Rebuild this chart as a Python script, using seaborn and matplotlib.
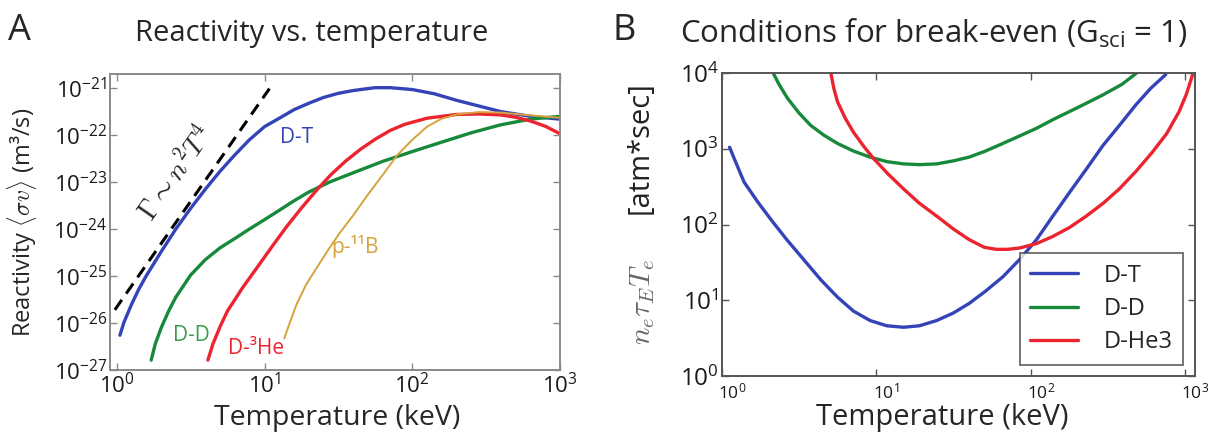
import numpy as np
import pandas as pd
import seaborn as sns
import matplotlib.pyplot as plt
import matplotlib.transforms as mtransforms
from matplotlib.ticker import LogLocator, FuncFormatter

# ---- panel A: reactivity, stored as log10(<sigma v> in m^3/s), vs temperature (keV)
dt_T = [1.05, 1.12, 1.26, 1.41, 1.58, 2.0, 2.51, 3.16, 3.98, 5.0, 6.3, 7.9, 10, 12.6, 15.8,
        20, 25, 31.6, 40, 56, 71, 100, 141, 200, 282, 398, 631, 1000]
dt_log = [-26.26, -25.98, -25.6, -25.28, -25.0, -24.48, -24.0, -23.56, -23.15, -22.77, -22.42,
          -22.1, -21.82, -21.64, -21.46, -21.32, -21.2, -21.11, -21.05, -20.99, -20.99, -21.03,
          -21.12, -21.26, -21.38, -21.5, -21.6, -21.66]

dd_T = [1.71, 1.82, 2.0, 2.24, 2.51, 3.16, 3.98, 5.0, 6.3, 7.9, 10, 12.6, 15.8, 20, 28, 40,
        63, 100, 158, 251, 398, 631, 1000]
dd_log = [-26.79, -26.45, -26.1, -25.75, -25.45, -24.98, -24.65, -24.4, -24.2, -24.0, -23.8,
          -23.6, -23.4, -23.21, -22.99, -22.8, -22.56, -22.35, -22.15, -21.95, -21.78, -21.66,
          -21.6]

dhe_T = [4.14, 4.47, 5.0, 5.6, 7.1, 8.9, 11.2, 14.1, 17.8, 22.4, 28.2, 35.5, 44.7, 56, 71, 89,
         126, 200, 282, 398, 501, 631, 794, 1000]
dhe_log = [-26.79, -26.45, -26.08, -25.75, -25.25, -24.82, -24.38, -23.95, -23.55, -23.18,
           -22.84, -22.55, -22.3, -22.09, -21.9, -21.77, -21.64, -21.56, -21.55, -21.57, -21.62,
           -21.7, -21.81, -21.97]

pb_T = [13.6, 14.8, 16.4, 17.7, 19, 20.6, 22.4, 26.9, 32, 40, 50, 63, 79, 100, 126, 158, 200,
        282, 398, 631, 1000]
pb_log = [-26.33, -26.0, -25.62, -25.4, -25.2, -25.02, -24.84, -24.45, -24.1, -23.7, -23.27,
          -22.85, -22.43, -22.1, -21.82, -21.65, -21.56, -21.51, -21.52, -21.58, -21.63]

guide_T = [0.97, 10.8]
guide_log = [-25.72, -21.01]

# ---- panel B: n tau T needed for break-even (atm*sec)
b_dt_T = [1.12, 1.2, 1.39, 1.7, 2.07, 2.63, 3.4, 4.37, 5.6, 7.1, 9.1, 11.7, 15, 19, 24.6, 31.6,
          40, 51, 66, 85, 109, 138, 178, 229, 293, 376, 480, 600, 750]
b_dt = [1047, 741, 363, 200, 117, 63, 34, 18.6, 11, 7.2, 5.4, 4.6, 4.4, 4.6, 5.4, 6.8, 9.1,
        13.2, 20.4, 34.7, 63, 126, 263, 537, 1096, 2040, 3800, 6300, 9550]

b_dd_T = [2.12, 2.34, 2.65, 3.16, 3.75, 4.57, 5.6, 7.1, 9.1, 11.7, 15, 19, 24.6, 31.6, 40, 51,
          66, 85, 109, 138, 178, 229, 293, 390, 500]
b_dd = [10470, 7080, 4680, 2950, 2040, 1510, 1175, 933, 776, 676, 631, 617, 631, 692, 776, 933,
        1175, 1480, 1860, 2400, 3090, 3980, 5130, 7080, 10470]

b_dhe_T = [5.05, 5.3, 5.6, 6.3, 7.1, 8.3, 9.6, 12, 15, 19, 24.6, 31.6, 40, 50, 60, 71, 85, 109,
           138, 178, 229, 295, 375, 480, 617, 760, 915, 1020, 1120]
b_dhe = [10470, 6310, 4170, 2510, 1660, 1070, 741, 457, 295, 191, 129, 87, 63, 50, 47, 47, 49,
         56, 69, 91, 129, 191, 295, 501, 912, 1585, 3090, 5250, 9550]

blue, green, red, gold = '#3444b8', '#17893a', '#ec2430', '#d6a23c'

sns.set_style('white')
plt.rcParams['font.family'] = ['Open Sans', 'DejaVu Sans']
plt.rcParams['mathtext.fontset'] = 'custom'
plt.rcParams['mathtext.rm'] = 'Open Sans'
plt.rcParams['mathtext.it'] = 'Open Sans:italic'
plt.rcParams['mathtext.bf'] = 'Open Sans:bold'

W, H = 1208, 438
fig = plt.figure(figsize=(W / 100, H / 100), dpi=100)


def px_axes(l, t, r, b):
    return fig.add_axes([l / W, 1 - b / H, (r - l) / W, (b - t) / H])


def pow_fmt(v, pos):
    e = int(round(np.log10(v)))
    return r'10$^{\mathregular{%d}}$' % e


def style_axes(ax, color, xsize, ysize, xpad):
    ax.set_xscale('log')
    ax.set_yscale('log')
    for s in ax.spines.values():
        s.set_color(color)
        s.set_linewidth(1.4)
    ax.tick_params(which='major', direction='in', length=5, width=1, color=color,
                   top=True, right=True, bottom=True, left=True)
    ax.tick_params(axis='x', labelsize=xsize, pad=xpad, labelcolor='#1a1a1a')
    ax.tick_params(axis='y', labelsize=ysize, pad=2, labelcolor='#1a1a1a')
    ax.tick_params(which='minor', length=0)
    ax.xaxis.set_major_locator(LogLocator(base=10, numticks=10))
    ax.yaxis.set_major_locator(LogLocator(base=10, numticks=12))
    ax.xaxis.set_major_formatter(FuncFormatter(pow_fmt))
    ax.yaxis.set_major_formatter(FuncFormatter(pow_fmt))
    ax.set_xlabel('')
    ax.set_ylabel('')


def sv(logs):
    return 10.0 ** np.array(logs)


# ---------------- panel A
axA = px_axes(110, 74, 560, 370)
sns.lineplot(x=dt_T, y=sv(dt_log), ax=axA, color=blue, lw=2.4, sort=False)
sns.lineplot(x=dd_T, y=sv(dd_log), ax=axA, color=green, lw=2.4, sort=False)
sns.lineplot(x=dhe_T, y=sv(dhe_log), ax=axA, color=red, lw=2.4, sort=False)
sns.lineplot(x=pb_T, y=sv(pb_log), ax=axA, color=gold, lw=1.4, sort=False)
sns.lineplot(x=guide_T, y=sv(guide_log), ax=axA, color='black', lw=2.2, sort=False,
             linestyle=(0, (4, 2.5)))
style_axes(axA, '#8a8a8a', 16, 16, 2)
axA.set_xlim(0.9, 1000)
axA.set_ylim(1e-27, 2e-21)

axA.text(16.5, 9.1e-23, 'D-T', color=blue, fontsize=15, ha='center', va='center')
axA.text(3.2, 5.5e-27, 'D-D', color='#3c9a4c', fontsize=15, ha='center', va='center')
axA.text(8.8, 2.8e-27, 'D-³He', color=red, fontsize=15, ha='center', va='center')
axA.text(41, 4.2e-25, 'p-¹¹B', color=gold, fontsize=15, ha='center', va='center')
axA.text(2.6, 1.5e-23, r'$\Gamma \sim n^2T^4$', fontsize=20, rotation=55,
         ha='center', va='center', math_fontfamily='cm')

fig.text(8 / W, 1 - 31 / H, 'A', fontsize=26, va='center', ha='left')
fig.text(312 / W, 1 - 33 / H, 'Reactivity vs. temperature', fontsize=21,
         ha='center', va='center')
fig.text(337 / W, 1 - 418 / H, 'Temperature (keV)', fontsize=20.5, ha='center', va='center')
fig.text(22 / W, 1 - 222 / H, r'Reactivity $\langle\sigma v\rangle$ (m³/s)', fontsize=17,
         rotation=90, ha='center', va='center', math_fontfamily='cm')

# ---------------- panel B
axB = px_axes(722, 73, 1195, 376)
curves = pd.concat([
    pd.DataFrame({'T': b_dt_T, 'v': b_dt, 'fuel': 'D-T'}),
    pd.DataFrame({'T': b_dd_T, 'v': b_dd, 'fuel': 'D-D'}),
    pd.DataFrame({'T': b_dhe_T, 'v': b_dhe, 'fuel': 'D-He3'}),
])
sns.lineplot(data=curves, x='T', y='v', hue='fuel', sort=False, lw=2.4, ax=axB,
             palette={'D-T': blue, 'D-D': green, 'D-He3': red})
style_axes(axB, '#555555', 12.5, 17.5, 5)
axB.set_xlim(1, 1160)
axB.set_ylim(1, 1e4)
shift = mtransforms.ScaledTranslation(10 / 100, 0, fig.dpi_scale_trans)
for t in axB.xaxis.get_major_ticks():
    t.label1.set_transform(t.label1.get_transform() + shift)
leg = axB.legend(loc='lower right', bbox_to_anchor=(0.975, 0.036), borderaxespad=0,
                 fontsize=17, fancybox=False, frameon=True, handlelength=2.0,
                 handletextpad=1.1, labelspacing=0.4, borderpad=0.45)
leg.get_frame().set_edgecolor('#444444')
leg.get_frame().set_linewidth(1.3)

fig.text(612 / W, 1 - 31 / H, 'B', fontsize=26, va='center', ha='left')
fig.text(934 / W, 1 - 33 / H, r'Conditions for break-even (G$_{\mathregular{sci}}$ = 1)',
         fontsize=22.5, ha='center', va='center')
fig.text(942 / W, 1 - 417 / H, 'Temperature (keV)', fontsize=21, ha='center', va='center')
fig.text(640 / W, 1 - 148 / H, '[atm*sec]', fontsize=21, rotation=90,
         ha='center', va='center', color='#222222')
fig.text(643 / W, 1 - 302 / H, r'$n_e\tau_E T_e$', fontsize=21, rotation=90,
         ha='center', va='center', math_fontfamily='cm', color='#666666')

fig.savefig('out.png', dpi=100)
